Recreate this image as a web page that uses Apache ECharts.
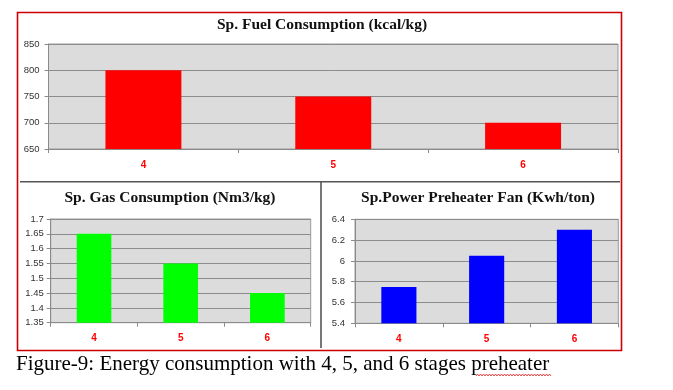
<!DOCTYPE html>
<html><head><meta charset="utf-8">
<script src="https://cdn.jsdelivr.net/npm/echarts@6/dist/echarts.min.js"></script>
<style>html,body{margin:0;padding:0;background:#fff}#c{width:673px;height:390px}</style>
</head><body><div id="c"></div>
<script>
const categories = ['4', '5', '6'];
const fuelValues = [800, 750, 700];
const gasValues = [1.65, 1.55, 1.45];
const powerValues = [5.75, 6.05, 6.3];
const fuelAxis = [650, 850, 50];   // min, max, interval
const gasAxis = [1.35, 1.7, 0.05];
const powerAxis = [5.4, 6.4, 0.2];
const titles = ['Sp. Fuel Consumption (kcal/kg)', 'Sp. Gas Consumption (Nm3/kg)', 'Sp.Power Preheater Fan (Kwh/ton)'];
const caption = 'Figure-9: Energy consumption with 4, 5, and 6 stages preheater';

const chart = echarts.init(document.getElementById('c'), null, {renderer: 'canvas'});
const titleFont = {fontFamily: 'Liberation Serif', fontWeight: 'bold', fontSize: 15.5, color: '#111'};
function xAx(i) {
  return {
    type: 'category', gridIndex: i, data: categories,
    axisLine: {lineStyle: {color: '#8a8a8a', width: 1}},
    axisTick: {show: true, length: 4, lineStyle: {color: '#8a8a8a'}},
    axisLabel: {color: '#ff0000', fontWeight: 'bold', fontSize: 10, fontFamily: 'Liberation Sans', margin: 11}
  };
}
function yAx(i, ax, margin) {
  return {
    type: 'value', gridIndex: i, min: ax[0], max: ax[1], interval: ax[2],
    axisLine: {show: true, lineStyle: {color: '#8a8a8a', width: 1}},
    axisTick: {show: true, length: 4, lineStyle: {color: '#8a8a8a'}},
    axisLabel: {color: '#333', fontSize: 9.5, fontFamily: 'Liberation Sans', margin: margin},
    splitLine: {show: true, lineStyle: {color: '#8c8c8c', width: 1}}
  };
}
const gridBase = {show: true, backgroundColor: '#dcdcdc', borderColor: '#9a9a9a', borderWidth: 1, containLabel: false};
const option = {
  animation: false,
  backgroundColor: '#ffffff',
  title: [
    {text: titles[0], left: 322, top: 17, textAlign: 'center', padding: 0, textStyle: titleFont},
    {text: titles[1], left: 170, top: 190, textAlign: 'center', padding: 0, textStyle: titleFont},
    {text: titles[2], left: 478, top: 190, textAlign: 'center', padding: 0, textStyle: titleFont},
    {text: caption, left: 16, top: 354, padding: 0, textStyle: {fontFamily: 'Liberation Serif', fontWeight: 'normal', fontSize: 21, color: '#000'}}
  ],
  grid: [
    Object.assign({left: 48.5, top: 44, width: 569.5, height: 105}, gridBase),
    Object.assign({left: 50.7, top: 219, width: 260, height: 103.7}, gridBase),
    Object.assign({left: 355, top: 219.3, width: 263.3, height: 104}, gridBase)
  ],
  xAxis: [xAx(0), xAx(1), xAx(2)],
  yAxis: [yAx(0, fuelAxis, 9), yAx(1, gasAxis, 7), yAx(2, powerAxis, 10)],
  series: [
    {type: 'bar', xAxisIndex: 0, yAxisIndex: 0, data: fuelValues, barWidth: '40%', itemStyle: {color: '#ff0000'}},
    {type: 'bar', xAxisIndex: 1, yAxisIndex: 1, data: gasValues, barWidth: '40%', itemStyle: {color: '#00ff00'}},
    {type: 'bar', xAxisIndex: 2, yAxisIndex: 2, data: powerValues, barWidth: '40%', itemStyle: {color: '#0000ff'}}
  ],
  graphic: [
    {type: 'rect', shape: {x: 17.5, y: 12.5, width: 604, height: 338}, style: {fill: null, stroke: '#cc0000', lineWidth: 1.6}, z: 100},
    {type: 'line', shape: {x1: 20, y1: 181.7, x2: 620, y2: 181.7}, style: {stroke: '#555', lineWidth: 1.6}, z: 100},
    {type: 'line', shape: {x1: 321, y1: 181.7, x2: 321, y2: 348}, style: {stroke: '#555', lineWidth: 1.6}, z: 100},
    {type: 'polyline', shape: {points: (function(){const p=[];for(let x=476,k=0;x<=551;x+=1.5,k++){p.push([x, k%2?374:376]);}return p;})()}, style: {fill: null, stroke: '#e02020', lineWidth: 0.8}, z: 100}
  ]
};
chart.setOption(option);
</script>
</body></html>
